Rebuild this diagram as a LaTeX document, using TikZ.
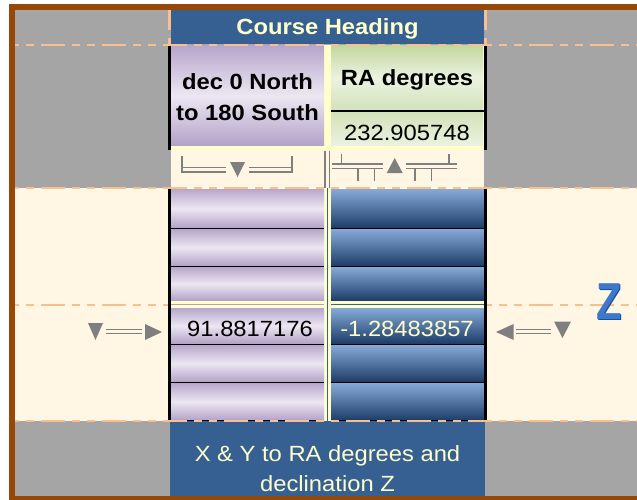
\documentclass[tikz,border=0pt]{standalone}
\usepackage{fontspec}
\setmainfont{Liberation Sans}[FakeStretch=1.08]
\definecolor{brn}{HTML}{974806}
\definecolor{gry}{HTML}{A5A5A5}
\definecolor{crm}{HTML}{FFF6E3}
\definecolor{hblue}{HTML}{366092}
\definecolor{dashor}{HTML}{FABF8F}
\definecolor{ylw}{HTML}{FFFFCC}
\definecolor{txty}{HTML}{FFFFCC}
\definecolor{purA}{HTML}{B8A6CC}
\definecolor{purB}{HTML}{ECE7F2}
\definecolor{purC}{HTML}{B3A1C7}
\definecolor{grnA}{HTML}{C4D89F}
\definecolor{grnB}{HTML}{EBF2E0}
\definecolor{grnC}{HTML}{D3E2BA}
\definecolor{bluA}{HTML}{86AAD8}
\definecolor{bluB}{HTML}{1D3D68}
\definecolor{symg}{HTML}{7F7F7F}
\definecolor{zdark}{HTML}{1F4E96}
\definecolor{zmain}{HTML}{3C78CC}
\begin{document}
\begin{tikzpicture}[x=1pt,y=-1pt,
  odash/.style={draw=dashor, line width=2.7pt, dash pattern=on 24pt off 7pt on 8pt off 7pt on 8pt off 7pt, dash phase=35pt},
  overt/.style={draw=dashor, line width=3pt},
  edge/.style={draw=black, line width=3pt},
  rowline/.style={draw=black, line width=1.2pt},
  purcell/.style={top color=purA, bottom color=purC, middle color=purB},
  blucell/.style={top color=bluA, bottom color=bluB},
  sym/.style={draw=symg, line width=1.3pt},
  symtri/.style={fill=symg},
  btxt/.style={inner sep=0pt, anchor=base, font=\fontsize{22}{26}\selectfont\bfseries},
  rtxt/.style={inner sep=0pt, anchor=base, font=\fontsize{22}{26}\selectfont},
]
\useasboundingbox (0,0) rectangle (637,500);
\fill[white] (0,0) rectangle (637,500);
\fill[brn] (9,4) rectangle (637,500);
\fill[gry] (15,10) rectangle (637,496);
\fill[crm] (15,188) rectangle (637,421);
% header and footer boxes
\fill[hblue] (171,10) rectangle (484,44);
\fill[hblue] (170,421) rectangle (485,496);
% middle dashed line (behind table)
\draw[odash] (15,305) -- (637,305);
% header row
\fill[ylw] (171,45) rectangle (484,150);
\shade[purcell] (171,46) rectangle (324,146);
\shade[top color=grnA, bottom color=grnC, middle color=grnB] (331,46) rectangle (483,110);
\shade[top color=grnC, bottom color=grnB] (331,112) rectangle (483,146);
\draw[rowline] (331,111) -- (484,111);
% symbol row
\fill[crm] (171,150) rectangle (484,188);
% data rows
\fill[ylw] (171,188) rectangle (484,421);
\foreach \t/\b in {189/228, 229/266, 267/300.5, 308/343.5, 345/382, 383/420.5}{
  \shade[purcell] (171,\t) rectangle (324,\b);
  \shade[blucell] (331,\t) rectangle (484,\b);
}
\foreach \y in {228.5, 266.5, 344.2, 382.5, 420.5}{
  \draw[rowline] (171,\y) -- (324,\y);
  \draw[rowline] (331,\y) -- (484,\y);
}
\draw[draw=purC, line width=1pt] (171,304) -- (324,304);
\draw[draw=hblue, line width=1pt] (331,304) -- (484,304);
\draw[draw=hblue, line width=0.8pt] (327.6,188) -- (327.6,421);
% outer edges
\draw[edge] (169.5,44) -- (169.5,150);
\draw[edge] (169.5,188) -- (169.5,421);
\draw[edge] (485.5,44) -- (485.5,150);
\draw[edge] (485.5,188) -- (485.5,421);
% dashed lines
\draw[odash] (15,45) -- (637,45);
\draw[odash] (15,188) -- (637,188);
\draw[odash] (15,421) -- (637,421);
\draw[overt] (169.5,10) -- (169.5,30) (169.5,38) -- (169.5,44);
\draw[overt] (485,10) -- (485,30) (485,38) -- (485,44);
% symbols row 2 left
\draw[sym] (182,156) -- (182,172) -- (226,172) (182,167.5) -- (226,167.5);
\draw[sym] (292,156) -- (292,172) -- (249,172) (292,167.5) -- (249,167.5);
\fill[symtri] (230,162) -- (245,162) -- (237.5,177) -- cycle;
% symbols row 2 right
\draw[sym] (325,151) -- (325,188) (329.8,151) -- (329.8,188);
\draw[sym] (332,164) -- (383,164) (332,168.3) -- (383,168.3);
\draw[sym] (406,164) -- (457,164) (406,168.3) -- (457,168.3);
\draw[sym] (341.5,154) -- (341.5,164) (449,154) -- (449,164);
\draw[sym] (358,168.3) -- (358,180.5) (374.5,168.3) -- (374.5,180.5) (415,168.3) -- (415,180.5) (431.5,168.3) -- (431.5,180.5);
\fill[symtri] (386.7,173) -- (402.7,173) -- (394.7,158) -- cycle;
% side arrows
\fill[symtri] (88,323) -- (103,323) -- (95.5,340) -- cycle;
\draw[sym] (106,329.5) -- (142,329.5) (106,333.5) -- (142,333.5);
\fill[symtri] (145,324) -- (145,340) -- (162,332) -- cycle;
\fill[symtri] (513.7,324) -- (513.7,340) -- (496,332) -- cycle;
\draw[sym] (515.5,329.5) -- (551,329.5) (515.5,333.5) -- (551,333.5);
\fill[symtri] (554,321.5) -- (571,321.5) -- (562.5,338) -- cycle;
% Z
\node[inner sep=0pt, text=zdark] (zs) at (610.5,302.5) {\scalebox{0.74}[1]{\fontsize{52}{52}\selectfont\bfseries Z}};
\node[inner sep=0pt, text=zmain] (z) at (609.5,301.5) {\scalebox{0.74}[1]{\fontsize{52}{52}\selectfont\bfseries Z}};
% texts
\node[btxt, text=txty] (head) at (327.5,35) {Course Heading};
\node[btxt] (decA) at (247.5,89.3) {dec 0 North};
\node[btxt] (decB) at (247.5,121) {to 180 South};
\node[btxt] (ra) at (407,86) {RA degrees};
\node[rtxt] (raval) at (407,140) {232.905748};
\node[rtxt] (decval) at (250,336) {91.8817176};
\node[rtxt, text=txty] (zval) at (407,336) {-1.28483857};
\node[rtxt, text=txty] (botA) at (327.5,461) {X \& Y to RA degrees and};
\node[rtxt, text=txty] (botB) at (327.5,491) {declination Z};
\end{tikzpicture}
\end{document}
